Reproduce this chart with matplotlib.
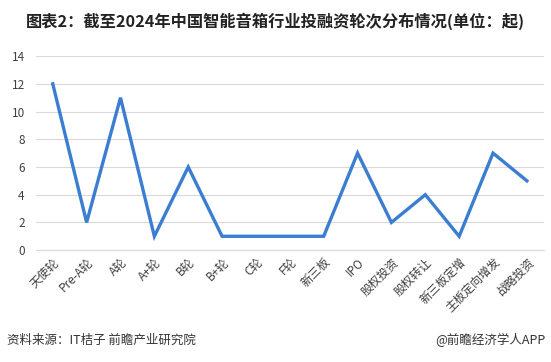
import matplotlib
matplotlib.use("Agg")
from matplotlib import pyplot as plt

plt.rcParams['font.family'] = ['Noto Sans CJK SC', 'DejaVu Sans']

categories = ['天使轮', 'Pre-A轮', 'A轮', 'A+轮', 'B轮', 'B+轮', 'C轮', 'F轮', '新三板',
              'IPO', '股权投资', '股权转让', '新三板定增', '主板定向增发', '战略投资']
counts = [12, 2, 11, 1, 6, 1, 1, 1, 1, 7, 2, 4, 1, 7, 5]
yticks = [0, 2, 4, 6, 8, 10, 12, 14]

fig = plt.figure(figsize=(5.51, 3.62), dpi=100)
ax = fig.add_axes([0.065, 0.309, 0.922, 0.536])

x = list(range(len(categories)))
ax.plot(x, counts, color='#3b7dd0', linewidth=2.4, solid_joinstyle='miter')

ax.set_xlim(-0.5, len(categories) - 0.5)
ax.set_ylim(0, 14)
ax.set_yticks(yticks)
ax.set_xticks(x)
ax.set_xticklabels(categories, rotation=45, ha='right', rotation_mode='anchor',
                   fontsize=8.5, color='#404040')
ax.tick_params(axis='y', labelsize=8.5, labelcolor='#404040', length=0, pad=8)
ax.tick_params(axis='x', length=0, pad=4)
ax.grid(axis='y', color='#d9d9d9', linewidth=0.8)
ax.set_axisbelow(True)
for s in ['top', 'right', 'left']:
    ax.spines[s].set_visible(False)
ax.spines['bottom'].set_color('#d9d9d9')

fig.text(0.5, 0.94, '图表2：截至2024年中国智能音箱行业投融资轮次分布情况(单位：起)',
         ha='center', va='center', fontsize=11.7, fontweight='bold', color='#222222')
fig.text(0.013, 0.06, '资料来源：IT桔子 前瞻产业研究院', ha='left', va='center',
         fontsize=9, color='#333333')
fig.text(0.99, 0.06, '@前瞻经济学人APP', ha='right', va='center',
         fontsize=9, color='#333333')

fig.savefig('out.png', dpi=100)
